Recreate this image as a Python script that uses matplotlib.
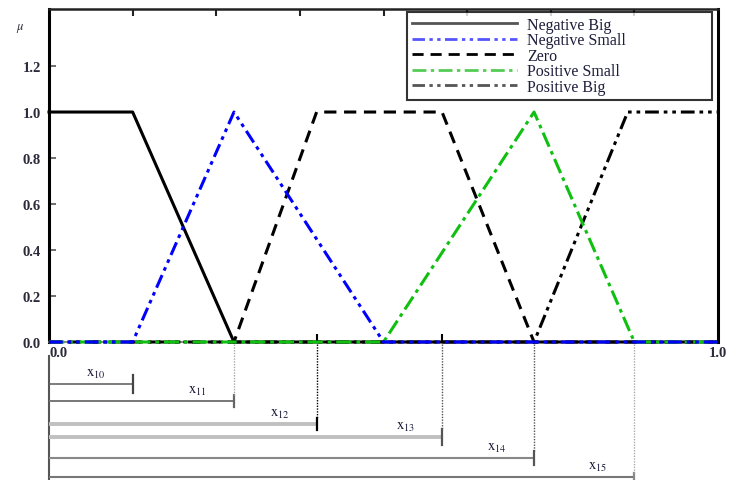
import matplotlib
matplotlib.use("Agg")
import matplotlib.pyplot as plt
import numpy as np

plt.rcParams['font.family'] = ['Liberation Serif', 'DejaVu Serif']
plt.rcParams['mathtext.fontset'] = 'stix'

# ---- data ----
series_names = ["Negative Big", "Negative Small", "Zero", "Positive Small", "Positive Big"]
nb_x = [0.0, 0.125, 0.2765, 1.0]
nb_y = [1.0, 1.0, 0.0, 0.0]
ns_x = [0.0, 0.125, 0.2765, 0.5, 1.0]
ns_y = [0.0, 0.0, 1.0, 0.0, 0.0]
zero_x = [0.0, 0.2765, 0.4, 0.5875, 0.725, 1.0]
zero_y = [0.0, 0.0, 1.0, 1.0, 0.0, 0.0]
ps_x = [0.0, 0.5, 0.725, 0.875, 1.0]
ps_y = [0.0, 0.0, 1.0, 0.0, 0.0]
pb_x = [0.0, 0.725, 0.865, 1.0]
pb_y = [0.0, 0.0, 1.0, 1.0]

y_ticks = [0.0, 0.2, 0.4, 0.6, 0.8, 1.0, 1.2]
y_tick_labels = ["0.0", "0.2", "0.4", "0.6", "0.8", "1.0", "1.2"]

interval_ends = [0.125, 0.2765, 0.4, 0.5875, 0.725, 0.875]
interval_labels = [r"$\mathrm{x}_{\mathrm{10}}$", r"$\mathrm{x}_{\mathrm{11}}$", r"$\mathrm{x}_{\mathrm{12}}$",
                   r"$\mathrm{x}_{\mathrm{13}}$", r"$\mathrm{x}_{\mathrm{14}}$", r"$\mathrm{x}_{\mathrm{15}}$"]

W, H = 739, 481
fig = plt.figure(figsize=(W / 100, H / 100), dpi=100)
ax = fig.add_axes([49 / W, 1 - 343 / H, 669 / W, 333 / H])

tick_color = "#2a2a3a"

h_nb, = ax.plot(nb_x, nb_y, color="black", lw=2.2, ls="-", label=series_names[0], zorder=3, clip_on=False)
h_ns, = ax.plot(ns_x, ns_y, color="#0000ff", lw=2.2, dashes=(4.5, 1.6, 1.2, 1.6, 1.2, 1.6), label=series_names[1], zorder=5, clip_on=False)
h_ze, = ax.plot(zero_x, zero_y, color="black", lw=2.2, dashes=(4, 2.5), label=series_names[2], zorder=3, clip_on=False)
h_ps, = ax.plot(ps_x, ps_y, color="#10c010", lw=2.2, dashes=(5, 1.6, 1.2, 1.6), label=series_names[3], zorder=4, clip_on=False)
h_pb, = ax.plot(pb_x, pb_y, color="black", lw=2.2, dashes=(4.5, 1.6, 1.2, 1.6, 1.2, 1.6), label=series_names[4], zorder=3, clip_on=False)

ax.set_xlim(0, 1)
ax.set_ylim(0, 1.448)

for side in ["left", "right"]:
    ax.spines[side].set_linewidth(2.2)
    ax.spines[side].set_color("black")
ax.spines["top"].set_linewidth(1.8)
ax.spines["top"].set_color("#222222")
ax.spines["bottom"].set_linewidth(1.2)
ax.spines["bottom"].set_color("#777777")

ax.set_yticks(y_ticks)
ax.set_yticklabels(y_tick_labels, fontsize=10.5, fontweight="bold", color=tick_color)
ax.tick_params(axis="y", direction="in", length=5, width=1.2, color="#555555", pad=6, right=False)

ax.set_xticks([0.0, 1.0])
ax.set_xticklabels([])
ax.set_xticks([0.4, 0.5875], minor=True)
ax.tick_params(axis="x", which="major", length=0)
ax.tick_params(axis="x", which="minor", direction="in", length=6, width=1.5, color="black")
sec = ax.secondary_xaxis("top")
sec.set_xticks(np.arange(0.125, 1.0, 0.125))
sec.set_xticklabels([])
sec.tick_params(direction="in", length=5, width=1.5, color="#222222")
sec.spines["top"].set_visible(False)

ax.annotate("0.0", xy=(0, 0), xycoords=("data", "axes fraction"), xytext=(0, -3),
            textcoords="offset points", ha="left", va="top", fontsize=10.5,
            fontweight="bold", color=tick_color)
ax.annotate("1.0", xy=(1, 0), xycoords=("data", "axes fraction"), xytext=(-6.5, -3),
            textcoords="offset points", ha="left", va="top", fontsize=10.5,
            fontweight="bold", color=tick_color, annotation_clip=False)

fig.text(16 / W, 1 - 29 / H, r"$\mu$", fontsize=9, color=tick_color, ha="left", va="center")

leg_x0 = (407 - 49) / 669
leg_w = (712 - 407) / 669
leg_top = 1 - (13 - 10) / 333
leg_h = (100 - 13) / 333
leg = ax.legend(handles=[h_nb, h_ns, h_ze, h_ps, h_pb],
                loc="upper left", bbox_to_anchor=(leg_x0, leg_top - leg_h, leg_w, leg_h),
                mode="expand", borderaxespad=0,
                frameon=True, fancybox=False, handlelength=6.6,
                handletextpad=0.6, labelspacing=-0.03, borderpad=0.3,
                prop={"family": "Liberation Serif", "size": 11.5})
leg.get_frame().set_edgecolor("black")
leg.get_frame().set_linewidth(1.5)
for t in leg.get_texts():
    t.set_color("#1e1e3c")
for lh in leg.get_lines():
    lh.set_linewidth(2.0)
leg.get_lines()[0].set_color("#555555")
leg.get_lines()[1].set_color("#5555ff")
leg.get_lines()[3].set_color("#55cc55")
leg.get_lines()[4].set_color("#555555")
leg.set_zorder(10)

# ---- lower interval diagram ----
ax2 = fig.add_axes([49 / W, 0, 669 / W, 138 / H])
ax2.set_xlim(0, 1)
ax2.set_ylim(481, 343)
ax2.axis("off")

bar_y = [385, 402, 425, 438, 459, 478]
cap_half = [9, 6, 6, 8, 7, 4]
bar_colors = ["#666666", "#777777", "#c0c0c0", "#c0c0c0", "#888888", "#777777"]
bar_lw = [1.2, 1.4, 2.8, 2.8, 1.5, 1.5]
cap_colors = ["#444444", "#666666", "black", "#555555", "#555555", "#888888"]
guide_colors = [None, "#aaaaaa", "black", "#555555", "#555555", "#aaaaaa"]

ax2.plot([0, 0], [357, 481], color="#555555", lw=1.5, clip_on=False)
for i, xe in enumerate(interval_ends):
    yb = bar_y[i]
    ax2.plot([0, xe], [yb, yb], color=bar_colors[i], lw=bar_lw[i], clip_on=False, solid_capstyle="butt")
    ax2.plot([xe, xe], [yb - cap_half[i], yb + cap_half[i]], color=cap_colors[i], lw=1.6, clip_on=False)
    if guide_colors[i] is not None:
        ax2.plot([xe, xe], [345, yb - cap_half[i]], color=guide_colors[i], lw=1.0,
                 ls=(0, (1, 1)), clip_on=False)
    ax2.text(xe - 0.055, yb - 4, interval_labels[i], fontsize=10.5, color="#1e1e3c",
             ha="center", va="bottom")

fig.savefig("out.png", dpi=100)
